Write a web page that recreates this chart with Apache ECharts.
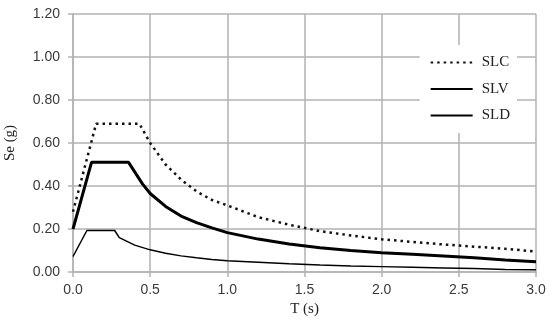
<!DOCTYPE html>
<html>
<head>
<meta charset="utf-8">
<script src="https://cdn.jsdelivr.net/npm/echarts@6/dist/echarts.min.js"></script>
<style>html,body{margin:0;padding:0;background:#fff}#c{width:550px;height:325px}</style>
</head>
<body>
<div id="c"></div>
<script>
// Period T (s) and spectral acceleration Se (g)
const slcT  = [0, 0.15, 0.43, 0.5, 0.6, 0.7, 0.8, 0.9, 1.0, 1.2, 1.4, 1.6, 1.8, 2.0, 2.2, 2.4, 2.6, 2.8, 3.0];
const slcSe = [0.28, 0.69, 0.69, 0.60, 0.50, 0.43, 0.375, 0.335, 0.31, 0.255, 0.22, 0.19, 0.17, 0.152, 0.14, 0.128, 0.118, 0.108, 0.095];

const slvT  = [0, 0.12, 0.36, 0.45, 0.5, 0.6, 0.7, 0.8, 0.9, 1.0, 1.2, 1.4, 1.6, 1.8, 2.0, 2.2, 2.4, 2.6, 2.8, 3.0];
const slvSe = [0.20, 0.51, 0.51, 0.41, 0.365, 0.305, 0.26, 0.23, 0.205, 0.183, 0.153, 0.13, 0.113, 0.10, 0.09, 0.082, 0.074, 0.066, 0.056, 0.048];

const sldT  = [0, 0.09, 0.27, 0.3, 0.4, 0.5, 0.6, 0.7, 0.8, 0.9, 1.0, 1.2, 1.4, 1.6, 1.8, 2.0, 2.2, 2.4, 2.6, 2.8, 3.0];
const sldSe = [0.072, 0.193, 0.193, 0.16, 0.125, 0.103, 0.087, 0.075, 0.066, 0.058, 0.052, 0.045, 0.038, 0.032, 0.028, 0.025, 0.022, 0.019, 0.016, 0.012, 0.010];

const seriesNames = ['SLC', 'SLV', 'SLD'];
const xTicks = { min: 0, max: 3.0, interval: 0.5 };
const yTicks = { min: 0, max: 1.2, interval: 0.2 };

const pairs = (t, s) => t.map((v, i) => [v, s[i]]);

const chart = echarts.init(document.getElementById('c'));
const gridColor = '#b2b2b2';
const labelColor = '#3a3a3a';
chart.setOption({
  animation: false,
  backgroundColor: '#fff',
  grid: { left: 73, right: 14, top: 14, bottom: 53, containLabel: false, outerBoundsMode: 'none' },
  xAxis: {
    type: 'value', min: xTicks.min, max: xTicks.max, interval: xTicks.interval,
    name: 'T (s)', nameLocation: 'middle', nameGap: 30,
    nameTextStyle: { fontFamily: 'Liberation Serif', fontSize: 15, color: '#222' },
    axisLine: { show: true, lineStyle: { color: gridColor, width: 1.5 } },
    axisTick: { show: true, length: 5, lineStyle: { color: gridColor, width: 1.5 } },
    splitLine: { show: true, lineStyle: { color: gridColor, width: 1.5 } },
    axisLabel: { fontFamily: 'Liberation Sans', fontSize: 14, color: labelColor, margin: 11,
      formatter: v => v.toFixed(1) }
  },
  yAxis: {
    type: 'value', min: yTicks.min, max: yTicks.max, interval: yTicks.interval,
    name: 'Se (g)', nameLocation: 'middle', nameGap: 55, nameRotate: 90,
    nameTextStyle: { fontFamily: 'Liberation Serif', fontSize: 15, color: '#222' },
    axisLine: { show: true, lineStyle: { color: gridColor, width: 1.5 } },
    axisTick: { show: true, length: 5, lineStyle: { color: gridColor, width: 1.5 } },
    splitLine: { show: true, lineStyle: { color: gridColor, width: 1.5 } },
    axisLabel: { fontFamily: 'Liberation Sans', fontSize: 14, color: labelColor, margin: 13,
      formatter: v => v.toFixed(2) }
  },
  legend: {
    data: seriesNames,
    orient: 'vertical',
    right: 33, top: 45,
    backgroundColor: '#fff',
    padding: [10, 7, 10, 10],
    itemWidth: 42, itemHeight: 14, itemGap: 11.5,
    itemStyle: { opacity: 0 },
    textStyle: { fontFamily: 'Liberation Serif', fontSize: 15, color: '#222', padding: [0, 0, 0, 4] }
  },
  series: [
    { name: seriesNames[0], type: 'line', data: pairs(slcT, slcSe), showSymbol: false, symbol: 'none',
      itemStyle: { color: '#111' },
      lineStyle: { color: '#111', width: 2.5, type: [2.5, 4] } },
    { name: seriesNames[1], type: 'line', data: pairs(slvT, slvSe), showSymbol: false, symbol: 'none',
      itemStyle: { color: '#000' },
      lineStyle: { color: '#000', width: 3 } },
    { name: seriesNames[2], type: 'line', data: pairs(sldT, sldSe), showSymbol: false, symbol: 'none',
      itemStyle: { color: '#000' },
      lineStyle: { color: '#000', width: 1.5 } }
  ]
});
</script>
</body>
</html>
